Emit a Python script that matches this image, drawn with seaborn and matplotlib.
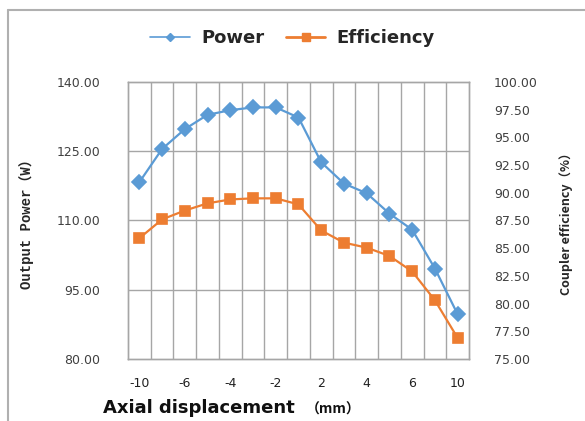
import numpy as np
import pandas as pd
import seaborn as sns
import matplotlib.pyplot as plt
from matplotlib.lines import Line2D

# axial displacement categories (mm)
displacement = [-10, -8, -6, -5, -4, -3, -2, -1, 2, 3, 4, 5, 6, 8, 10]
power = [118.3, 125.5, 129.8, 132.9, 133.9, 134.5, 134.5, 132.3, 122.6,
         118.0, 115.9, 111.5, 108.0, 99.6, 89.7]
efficiency = [85.9, 87.6, 88.4, 89.05, 89.4, 89.5, 89.5, 88.95, 86.6,
              85.5, 85.05, 84.3, 82.9, 80.3, 76.9]
shown_labels = ['-10', '-6', '-4', '-2', '2', '4', '6', '10']

blue = '#5B9BD5'
orange = '#ED7D31'
grid_c = '#a6a6a6'

sns.set_theme(style='white')
plt.rcParams['font.family'] = ['DejaVu Sans']

df = pd.DataFrame({'disp': [str(d) for d in displacement],
                   'power': power, 'eff': efficiency})

fig = plt.figure(figsize=(5.85, 4.21), dpi=100)
ax = fig.add_axes([0.2188, 0.1473, 0.5829, 0.6579])
ax2 = ax.twinx()

sns.pointplot(data=df, x='disp', y='power', ax=ax, color=blue, markers='D',
              linewidth=1.6, markersize=7, order=df['disp'])
sns.pointplot(data=df, x='disp', y='eff', ax=ax2, color=orange, markers='s',
              linewidth=1.6, markersize=7.5, order=df['disp'])

n = len(displacement)
ax.set_xlim(-0.5, n - 0.5)
ax.set_ylim(80, 140)
ax2.set_ylim(75, 100)
ax.set_yticks(np.arange(80, 141, 15))
ax2.set_yticks(np.arange(75, 100.1, 2.5))
ax.set_yticklabels([f'{v:.2f}' for v in np.arange(80, 141, 15)], fontsize=9, color='#404040')
ax2.set_yticklabels([f'{v:.2f}' for v in np.arange(75, 100.1, 2.5)], fontsize=9, color='#404040')
ax.set_xticks(range(0, n, 2))
ax.set_xticklabels(shown_labels, fontsize=9, color='#202020')
ax.tick_params(axis='both', length=0, pad=20)
ax.tick_params(axis='x', pad=13)
ax2.tick_params(axis='y', length=0, pad=18)

# gridlines: horizontal at left ticks, vertical between categories
for y in np.arange(95, 140, 15):
    ax.axhline(y, color=grid_c, lw=1, zorder=0)
for x in np.arange(0.5, n - 1, 1):
    ax.axvline(x, color=grid_c, lw=1, zorder=0)
for a in (ax, ax2):
    for s in a.spines.values():
        s.set_color(grid_c)
        s.set_linewidth(1)

ax.set_xlabel('')
ax.set_ylabel('Output Power（W）', family=['Liberation Mono', 'Noto Sans CJK SC'],
              fontsize=10, fontweight='bold')
ax2.set_ylabel('Coupler efficiency（%）', family=['Noto Sans CJK SC', 'DejaVu Sans'],
               fontsize=9, fontweight='bold')
ax.yaxis.set_label_coords(-0.275, 0.5)
ax2.yaxis.set_label_coords(1.265, 0.5)

fig.text(0.176, 0.018, 'Axial displacement', fontsize=13, fontweight='bold', color='#101010')
fig.text(0.522, 0.018, '（mm）', fontsize=10, fontweight='bold', color='#101010',
         family=['Noto Sans CJK SC', 'DejaVu Sans'])

handles = [Line2D([], [], color=blue, marker='D', markersize=4, lw=1.2),
           Line2D([], [], color=orange, marker='s', markersize=6, lw=2)]
fig.legend(handles, ['Power', 'Efficiency'], loc='center', bbox_to_anchor=(0.5, 0.91),
           ncol=2, frameon=False, prop={'weight': 'bold', 'size': 13},
           handlelength=2.2, columnspacing=1.2, handletextpad=0.6)

# outer border (top and left)
fig.add_artist(Line2D([0.014, 1.0], [0.976, 0.976], color='#b0b0b0', lw=1.5))
fig.add_artist(Line2D([0.014, 0.014], [0.0, 0.976], color='#b0b0b0', lw=1.5))

fig.savefig('out.png', dpi=100)
